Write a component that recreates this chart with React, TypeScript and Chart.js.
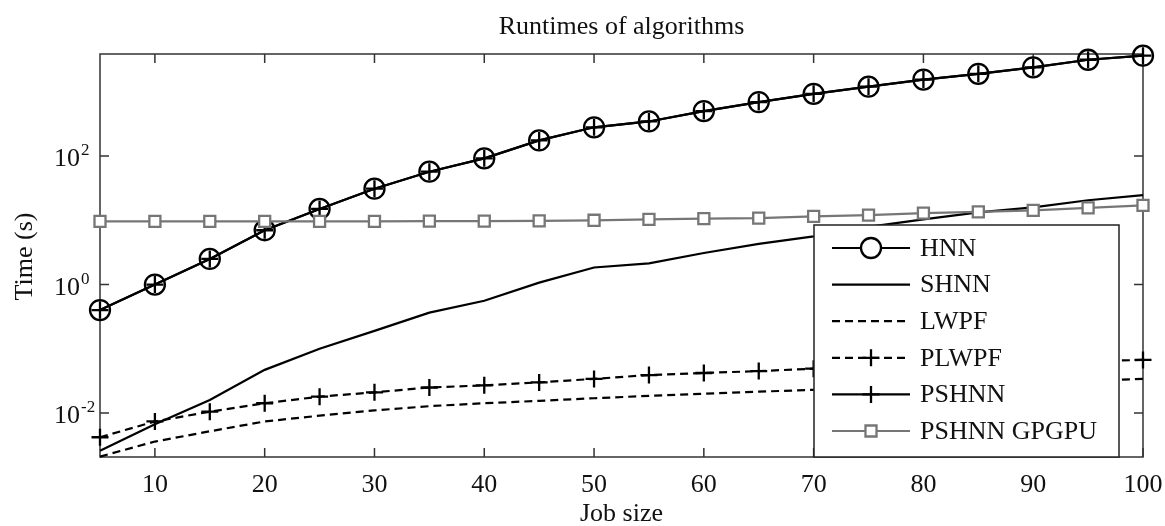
import React, { useEffect, useRef } from 'react';
import { Chart, registerables } from 'chart.js';

Chart.register(...registerables);

// ---------- data ----------
const jobSizes = [5, 10, 15, 20, 25, 30, 35, 40, 45, 50, 55, 60, 65, 70, 75, 80, 85, 90, 95, 100];
const hnn = [0.4, 1.0, 2.5, 7.0, 15, 31, 57, 92, 175, 280, 345, 500, 690, 930, 1200, 1550, 1900, 2400, 3150, 3650];
const shnn = [0.0026, 0.0067, 0.016, 0.047, 0.1, 0.19, 0.365, 0.56, 1.07, 1.84, 2.13, 3.1, 4.3, 5.6, 7.9, 10.3, 13.3, 15.9, 20.5, 24.6];
const lwpf = [0.0021, 0.0036, 0.0052, 0.0074, 0.0091, 0.011, 0.0128, 0.0142, 0.0155, 0.017, 0.0185, 0.02, 0.0215, 0.023, 0.0245, 0.026, 0.028, 0.03, 0.032, 0.034];
const plwpf = [0.0042, 0.0074, 0.0105, 0.0142, 0.018, 0.021, 0.025, 0.027, 0.03, 0.034, 0.039, 0.042, 0.045, 0.049, 0.052, 0.055, 0.058, 0.061, 0.064, 0.067];
const pshnn = [0.4, 1.0, 2.5, 7.0, 15, 31, 57, 92, 175, 280, 345, 500, 690, 930, 1200, 1550, 1900, 2400, 3150, 3650];
const pshnnGpgpu = [9.6, 9.6, 9.6, 9.6, 9.6, 9.6, 9.7, 9.7, 9.8, 10.0, 10.3, 10.6, 10.8, 11.5, 12.0, 12.9, 13.5, 14.3, 15.6, 17.1];

const seriesNames = ['HNN', 'SHNN', 'LWPF', 'PLWPF', 'PSHNN', 'PSHNN GPGPU'];
const xTickValues = [10, 20, 30, 40, 50, 60, 70, 80, 90, 100];
const xTickLabels = ['10', '20', '30', '40', '50', '60', '70', '80', '90', '100'];
const yTickExponents = [-2, 0, 2];
const yTickBase = '10';
const titleText = 'Runtimes of algorithms';
const xAxisLabel = 'Job size';
const yAxisLabel = 'Time (s)';

// ---------- styles ----------
const FONT = '"Liberation Serif", "Times New Roman", serif';
const GRAY = '#767676';
const BLACK = '#000000';
const DASH = [8, 5];
const LINE_W = 2.2;

type MarkerStyle = 'circle' | 'cross' | 'rect' | 'none';

function drawMarker(ctx: CanvasRenderingContext2D, style: MarkerStyle, x: number, y: number, r: number, color: string, fill: string) {
  if (style === 'none') return;
  ctx.save();
  ctx.setLineDash([]);
  ctx.strokeStyle = color;
  ctx.lineWidth = 2.3;
  ctx.beginPath();
  if (style === 'circle') {
    ctx.arc(x, y, r, 0, Math.PI * 2);
    ctx.fillStyle = fill;
    ctx.fill();
  } else if (style === 'rect') {
    const s = r * Math.SQRT1_2;
    ctx.rect(x - s, y - s, 2 * s, 2 * s);
    ctx.fillStyle = fill;
    ctx.fill();
  } else if (style === 'cross') {
    ctx.moveTo(x - r, y);
    ctx.lineTo(x + r, y);
    ctx.moveTo(x, y - r);
    ctx.lineTo(x, y + r);
  }
  ctx.stroke();
  ctx.restore();
}

const legendSpec: { color: string; dash: number[]; marker: MarkerStyle; r: number }[] = [
  { color: BLACK, dash: [], marker: 'circle', r: 10 },
  { color: BLACK, dash: [], marker: 'none', r: 0 },
  { color: BLACK, dash: DASH, marker: 'none', r: 0 },
  { color: BLACK, dash: DASH, marker: 'cross', r: 8.5 },
  { color: BLACK, dash: [], marker: 'cross', r: 8.5 },
  { color: GRAY, dash: [], marker: 'rect', r: 7.8 },
];

const framePlugin = {
  id: 'matlabFrame',
  beforeDatasetsDraw(chart: any) {
    const { ctx, chartArea } = chart;
    const { left, right, top, bottom } = chartArea;
    const xs = chart.scales.x;
    const ys = chart.scales.y;
    ctx.save();
    ctx.strokeStyle = '#333333';
    ctx.lineWidth = 1.5;
    ctx.setLineDash([]);
    ctx.strokeRect(left, top, right - left, bottom - top);
    ctx.beginPath();
    const tl = 9;
    xTickValues.forEach((v) => {
      const px = xs.getPixelForValue(v);
      ctx.moveTo(px, bottom);
      ctx.lineTo(px, bottom - tl);
      ctx.moveTo(px, top);
      ctx.lineTo(px, top + tl);
    });
    yTickExponents.forEach((e) => {
      const py = ys.getPixelForValue(Math.pow(10, e));
      ctx.moveTo(left, py);
      ctx.lineTo(left + tl, py);
      ctx.moveTo(right, py);
      ctx.lineTo(right - tl, py);
    });
    ctx.stroke();
    ctx.restore();
  },
};

const textPlugin = {
  id: 'matlabText',
  afterDraw(chart: any) {
    const { ctx, chartArea } = chart;
    const { left, right, top, bottom } = chartArea;
    const xs = chart.scales.x;
    const ys = chart.scales.y;
    const cx = (left + right) / 2;
    const cy = (top + bottom) / 2;
    ctx.save();
    ctx.fillStyle = '#111111';
    ctx.textBaseline = 'alphabetic';

    // title
    ctx.font = `26px ${FONT}`;
    ctx.textAlign = 'center';
    ctx.fillText(titleText, cx, top - 20);

    // x tick labels
    xTickValues.forEach((v, i) => {
      ctx.fillText(xTickLabels[i], xs.getPixelForValue(v), bottom + 35);
    });

    // x axis label
    ctx.fillText(xAxisLabel, cx, bottom + 64);

    // y tick labels with superscript exponent
    yTickExponents.forEach((e) => {
      const py = ys.getPixelForValue(Math.pow(10, e));
      ctx.font = `26px ${FONT}`;
      ctx.textAlign = 'right';
      ctx.fillText(yTickBase, left - 20, py + 10);
      ctx.font = `17px ${FONT}`;
      ctx.textAlign = 'left';
      ctx.fillText(String(e), left - 19, py - 1);
    });

    // y axis label
    ctx.font = `26px ${FONT}`;
    ctx.textAlign = 'center';
    ctx.translate(32, cy + 1);
    ctx.rotate(-Math.PI / 2);
    ctx.fillText(yAxisLabel, 0, 0);
    ctx.restore();

    // legend
    ctx.save();
    const lx0 = 814, ly0 = 225, lx1 = 1119, ly1 = 457;
    ctx.fillStyle = '#ffffff';
    ctx.fillRect(lx0, ly0, lx1 - lx0, ly1 - ly0);
    ctx.strokeStyle = '#222222';
    ctx.lineWidth = 1.5;
    ctx.strokeRect(lx0, ly0, lx1 - lx0, ly1 - ly0);
    ctx.font = `26px ${FONT}`;
    ctx.textAlign = 'left';
    ctx.textBaseline = 'middle';
    seriesNames.forEach((name, i) => {
      const spec = legendSpec[i];
      const yy = 248 + i * 36.6;
      ctx.save();
      ctx.strokeStyle = spec.color;
      ctx.lineWidth = LINE_W;
      ctx.setLineDash(spec.dash);
      ctx.beginPath();
      ctx.moveTo(832, yy);
      ctx.lineTo(910, yy);
      ctx.stroke();
      ctx.restore();
      drawMarker(ctx, spec.marker, 871, yy, spec.r, spec.color, '#ffffff');
      ctx.fillStyle = '#111111';
      ctx.fillText(name, 920, yy + 1);
    });
    ctx.restore();
  },
};

function toPoints(values: number[]) {
  return jobSizes.map((x, i) => ({ x, y: values[i] }));
}

export default function App() {
  const canvasRef = useRef<HTMLCanvasElement | null>(null);

  useEffect(() => {
    const canvas = canvasRef.current;
    if (!canvas) return;
    const common = {
      fill: false,
      tension: 0,
      borderWidth: LINE_W,
      clip: false as any,
      pointBorderWidth: 2.3,
    };
    const chart = new Chart(canvas, {
      type: 'line',
      data: {
        datasets: [
          {
            ...common,
            label: seriesNames[0],
            data: toPoints(hnn),
            borderColor: BLACK,
            pointStyle: 'circle',
            pointRadius: 10,
            pointBorderColor: BLACK,
            pointBackgroundColor: 'rgba(0,0,0,0)',
            order: 5,
          },
          {
            ...common,
            label: seriesNames[1],
            data: toPoints(shnn),
            borderColor: BLACK,
            pointRadius: 0,
            order: 4,
          },
          {
            ...common,
            label: seriesNames[2],
            data: toPoints(lwpf),
            borderColor: BLACK,
            borderDash: DASH,
            pointRadius: 0,
            order: 3,
          },
          {
            ...common,
            label: seriesNames[3],
            data: toPoints(plwpf),
            borderColor: BLACK,
            borderDash: DASH,
            pointStyle: 'cross',
            pointRadius: 8.5,
            pointBorderColor: BLACK,
            order: 2,
          },
          {
            ...common,
            label: seriesNames[4],
            data: toPoints(pshnn),
            borderColor: BLACK,
            pointStyle: 'cross',
            pointRadius: 8.5,
            pointBorderColor: BLACK,
            order: 1,
          },
          {
            ...common,
            label: seriesNames[5],
            data: toPoints(pshnnGpgpu),
            borderColor: GRAY,
            pointStyle: 'rect',
            pointRadius: 7.8,
            pointBorderColor: GRAY,
            pointBackgroundColor: '#ffffff',
            order: 0,
          },
        ],
      },
      options: {
        animation: false,
        responsive: false,
        events: [],
        layout: { padding: { left: 100, top: 54, right: 22, bottom: 69 } },
        plugins: {
          legend: { display: false },
          title: { display: false },
          tooltip: { enabled: false },
        },
        scales: {
          x: { type: 'linear', min: 5, max: 100, display: false },
          y: { type: 'logarithmic', min: 0.00207, max: 3870, display: false },
        },
      },
      plugins: [framePlugin, textPlugin],
    });
    return () => chart.destroy();
  }, []);

  return (
    <div style={{ position: 'absolute', left: 0, top: 0, width: 1165, height: 526, background: '#ffffff' }}>
      <canvas ref={canvasRef} width={1165} height={526} style={{ display: 'block' }} />
    </div>
  );
}
